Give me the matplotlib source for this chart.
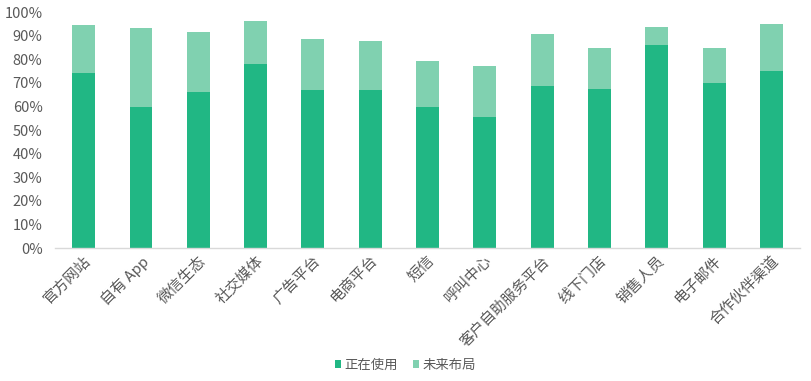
import matplotlib
matplotlib.use("Agg")
import matplotlib.pyplot as plt
from matplotlib.ticker import PercentFormatter
from matplotlib.patches import Patch

plt.rcParams['font.family'] = ['Noto Sans CJK SC', 'DejaVu Sans']

categories = ["官方网站", "自有 App", "微信生态", "社交媒体", "广告平台", "电商平台", "短信",
              "呼叫中心", "客户自助服务平台", "线下门店", "销售人员", "电子邮件", "合作伙伴渠道"]
current = [74.2, 59.7, 66.1, 78.0, 66.9, 66.9, 59.7, 55.5, 68.6, 67.4, 86.0, 69.9, 75.0]
future = [20.3, 33.5, 25.4, 18.2, 21.7, 20.8, 19.5, 21.6, 22.1, 17.3, 7.6, 14.8, 19.9]
series_names = ["正在使用", "未来布局"]

c_dark = "#21B784"
c_light = "#80D1B0"
tick_color = "#595959"

fig = plt.figure(figsize=(8.11, 3.81), dpi=100)
ax = fig.add_axes([55/811, 1-248/381, 745/811, 236/381])

x = range(len(categories))
cur = [v/100 for v in current]
fut = [v/100 for v in future]
ax.bar(x, cur, width=0.4, color=c_dark, zorder=2)
ax.bar(x, fut, width=0.4, bottom=cur, color=c_light, zorder=2)

ax.set_xlim(-0.5, len(categories)-0.5)
ax.set_ylim(0, 1)
ax.set_yticks([i/10 for i in range(11)])
ax.yaxis.set_major_formatter(PercentFormatter(1.0, decimals=0))
for s in ["top", "right", "left"]:
    ax.spines[s].set_visible(False)
ax.spines["bottom"].set_color("#D9D9D9")
ax.spines["bottom"].set_linewidth(1)
ax.tick_params(axis="y", length=0, labelsize=10.5, labelcolor=tick_color, pad=9)
ax.tick_params(axis="x", length=0, labelsize=10.8, labelcolor=tick_color, pad=4)
ax.set_xticks(list(x))
ax.set_xticklabels(categories, rotation=45, ha="right", rotation_mode="anchor")

handles = [Patch(facecolor=c_dark), Patch(facecolor=c_light)]
fig.legend(handles, series_names, loc="center", bbox_to_anchor=(0.5, 1-365/381), ncol=2,
           frameon=False, fontsize=9.6, handlelength=0.45, handleheight=0.55,
           handletextpad=0.3, columnspacing=1.1, labelcolor=tick_color)

fig.savefig("out.png", dpi=100)
